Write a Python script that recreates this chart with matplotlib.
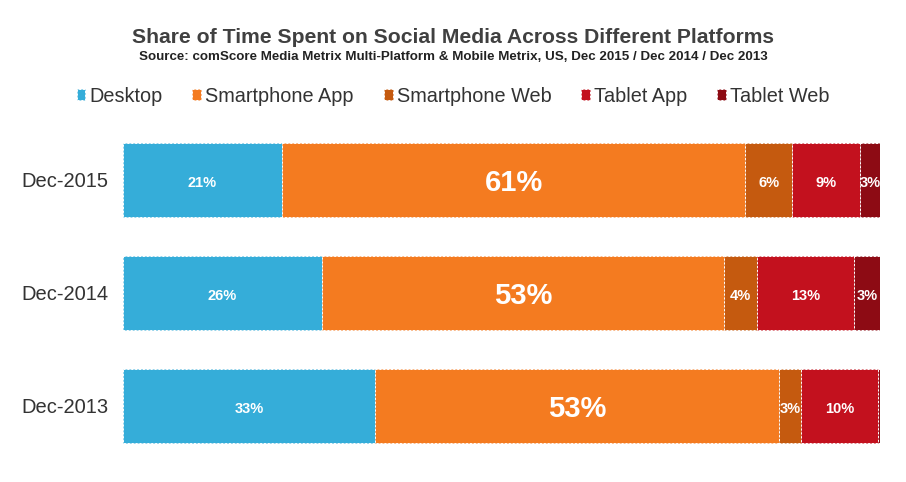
import matplotlib.pyplot as plt
import numpy as np

plt.rcParams['font.family'] = ['Liberation Sans', 'DejaVu Sans']

periods = ["Dec-2015", "Dec-2014", "Dec-2013"]
platforms = ["Desktop", "Smartphone App", "Smartphone Web", "Tablet App", "Tablet Web"]
colors = ["#35ADD9", "#F47B20", "#C55A0F", "#C3111E", "#8D0B14"]

# segment widths (share of 100%)
desktop = [21.0, 26.3, 33.3]
smartphone_app = [61.2, 53.1, 53.4]
smartphone_web = [6.2, 4.4, 2.8]
tablet_app = [9.0, 12.8, 10.3]
tablet_web = [2.6, 3.4, 0.3]

# printed labels
labels = [
    ["21%", "61%", "6%", "9%", "3%"],
    ["26%", "53%", "4%", "13%", "3%"],
    ["33%", "53%", "3%", "10%", ""],
]

series = [desktop, smartphone_app, smartphone_web, tablet_app, tablet_web]

fig = plt.figure(figsize=(9.06, 4.82), dpi=100)
ax = fig.add_axes([0.1358, 0.0415, 0.8355, 0.703])

y = np.arange(len(periods))
left = np.zeros(len(periods))
for i, (name, vals, col) in enumerate(zip(platforms, series, colors)):
    vals = np.array(vals)
    ax.barh(y, vals, left=left, height=0.655, color=col, label=name,
            edgecolor="white", linewidth=0.7, linestyle=(0, (2, 2)))
    for j in range(len(periods)):
        txt = labels[j][i]
        if txt:
            big = vals[j] == max(s[j] for s in series)
            ax.text(left[j] + vals[j] / 2, y[j] + 0.03, txt, ha="center", va="center",
                    color="white", fontweight="bold", fontsize=21 if big else 10.5)
    left += vals

ax.set_xlim(0, 100)
ax.set_ylim(2.5, -0.5)
ax.set_yticks(y)
ax.set_yticklabels(periods, fontsize=14.5, color="#333333")
ax.tick_params(axis="y", length=0, pad=10.5)
ax.set_xticks([])
for s in ax.spines.values():
    s.set_visible(False)

fig.text(0.5, 0.910, "Share of Time Spent on Social Media Across Different Platforms",
         ha="center", va="baseline", fontsize=15.2, fontweight="bold", color="#404040")
fig.text(0.5, 0.876, "Source: comScore Media Metrix Multi-Platform & Mobile Metrix, US, Dec 2015 / Dec 2014 / Dec 2013",
         ha="center", va="baseline", fontsize=9.6, fontweight="bold", color="#222222")

leg = fig.legend(loc="center", bbox_to_anchor=(0.5, 0.8), ncol=5, frameon=False,
                 fontsize=14.3, handlelength=0.45, handleheight=0.45, handletextpad=0.2,
                 columnspacing=1.5)
for t in leg.get_texts():
    t.set_color("#333333")

plt.savefig("out.png", dpi=100)
